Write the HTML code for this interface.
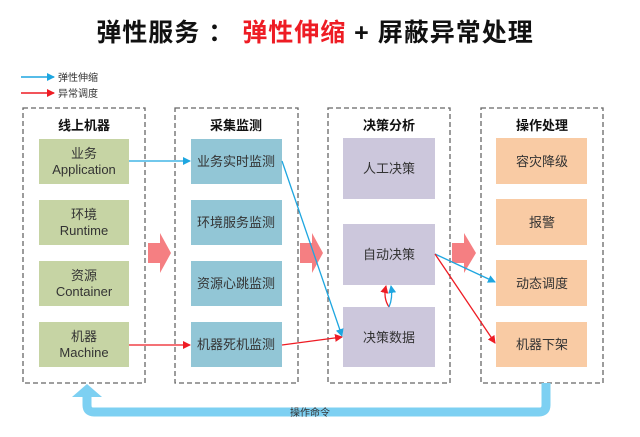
<!DOCTYPE html>
<html><head><meta charset="utf-8"><style>
body{margin:0;background:#fff;}
svg{display:block;font-family:"Liberation Sans","Noto Sans CJK SC",sans-serif;}
</style></head><body>
<svg width="640" height="437" viewBox="0 0 640 437">
<defs>
<marker id="ab" markerWidth="8" markerHeight="8" refX="7" refY="4" orient="auto" markerUnits="userSpaceOnUse"><path d="M0,0 L8,4 L0,8 Z" fill="#1ea6e0"/></marker>
<marker id="ar" markerWidth="8" markerHeight="8" refX="7" refY="4" orient="auto" markerUnits="userSpaceOnUse"><path d="M0,0 L8,4 L0,8 Z" fill="#ee1c24"/></marker>
</defs>
<text x="315" y="41" text-anchor="middle" font-size="25" font-weight="bold" fill="#111" letter-spacing="1">弹性服务 ： <tspan fill="#ee1c24">弹性伸缩</tspan> + 屏蔽异常处理</text>
<!-- legend -->
<line x1="21" y1="77" x2="54" y2="77" stroke="#1ea6e0" stroke-width="1.5" marker-end="url(#ab)"/>
<text x="58" y="81" font-size="10" fill="#333">弹性伸缩</text>
<line x1="21" y1="93" x2="54" y2="93" stroke="#ee1c24" stroke-width="1.5" marker-end="url(#ar)"/>
<text x="58" y="97" font-size="10" fill="#333">异常调度</text>
<!-- containers -->
<g fill="none" stroke="#666" stroke-width="1.3" stroke-dasharray="5,3">
<rect x="23" y="108" width="122" height="275"/>
<rect x="175" y="108" width="123" height="275"/>
<rect x="328" y="108" width="122" height="275"/>
<rect x="481" y="108" width="122" height="275"/>
</g>
<g font-size="13" font-weight="bold" fill="#111" text-anchor="middle">
<text x="84" y="130">线上机器</text>
<text x="236" y="130">采集监测</text>
<text x="389" y="130">决策分析</text>
<text x="542" y="130">操作处理</text>
</g>
<!-- col1 -->
<g fill="#c6d4a4">
<rect x="39" y="139" width="90" height="45"/><rect x="39" y="200" width="90" height="45"/>
<rect x="39" y="261" width="90" height="45"/><rect x="39" y="322" width="90" height="45"/>
</g>
<g font-size="13" fill="#333" text-anchor="middle">
<text x="84" y="158">业务</text><text x="84" y="174">Application</text>
<text x="84" y="219">环境</text><text x="84" y="235">Runtime</text>
<text x="84" y="280">资源</text><text x="84" y="296">Container</text>
<text x="84" y="341">机器</text><text x="84" y="357">Machine</text>
</g>
<!-- col2 -->
<g fill="#92c6d6">
<rect x="191" y="139" width="91" height="45"/><rect x="191" y="200" width="91" height="45"/>
<rect x="191" y="261" width="91" height="45"/><rect x="191" y="322" width="91" height="45"/>
</g>
<g font-size="13" fill="#333" text-anchor="middle">
<text x="236" y="166">业务实时监测</text><text x="236" y="227">环境服务监测</text>
<text x="236" y="288">资源心跳监测</text><text x="236" y="349">机器死机监测</text>
</g>
<!-- col3 -->
<g fill="#ccc7dc">
<rect x="343" y="138" width="92" height="61"/><rect x="343" y="224" width="92" height="61"/>
<rect x="343" y="307" width="92" height="60"/>
</g>
<g font-size="13" fill="#333" text-anchor="middle">
<text x="389" y="173">人工决策</text><text x="389" y="259">自动决策</text><text x="389" y="342">决策数据</text>
</g>
<!-- col4 -->
<g fill="#f9cba4">
<rect x="496" y="138" width="91" height="46"/><rect x="496" y="199" width="91" height="46"/>
<rect x="496" y="260" width="91" height="46"/><rect x="496" y="322" width="91" height="45"/>
</g>
<g font-size="13" fill="#333" text-anchor="middle">
<text x="542" y="166">容灾降级</text><text x="542" y="227">报警</text>
<text x="542" y="288">动态调度</text><text x="542" y="349">机器下架</text>
</g>
<!-- big pink arrows -->
<g fill="#f57f82">
<path d="M148,243 L160,243 L160,233 L171,253 L160,273 L160,263 L148,263 Z"/>
<path d="M300,243 L312,243 L312,233 L323,253 L312,273 L312,263 L300,263 Z"/>
<path d="M452,243 L464,243 L464,233 L476,253 L464,273 L464,263 L452,263 Z"/>
</g>
<!-- connectors -->
<line x1="129" y1="161" x2="190" y2="161" stroke="#1ea6e0" stroke-width="1.3" marker-end="url(#ab)"/>
<line x1="129" y1="345" x2="190" y2="345" stroke="#ee1c24" stroke-width="1.3" marker-end="url(#ar)"/>
<line x1="282" y1="161" x2="342" y2="336" stroke="#1ea6e0" stroke-width="1.3" marker-end="url(#ab)"/>
<line x1="282" y1="345" x2="342" y2="337" stroke="#ee1c24" stroke-width="1.3" marker-end="url(#ar)"/>
<line x1="435" y1="254" x2="495" y2="282" stroke="#1ea6e0" stroke-width="1.3" marker-end="url(#ab)"/>
<line x1="435" y1="254" x2="495" y2="343" stroke="#ee1c24" stroke-width="1.3" marker-end="url(#ar)"/>
<path d="M389,307 Q383,298 386,286" fill="none" stroke="#ee1c24" stroke-width="1.3" marker-end="url(#ar)"/>
<path d="M389,307 Q393,298 391,286" fill="none" stroke="#1ea6e0" stroke-width="1.3" marker-end="url(#ab)"/>
<!-- bottom loop -->
<path d="M546,383 L546,405 Q546,412 539,412 L94,412 Q87,412 87,405 L87,396" fill="none" stroke="#7dd0f2" stroke-width="9"/>
<path d="M72,397 L87,384 L102,397 Z" fill="#7dd0f2"/>
<text x="310" y="416" font-size="10" fill="#333" text-anchor="middle">操作命令</text>
</svg>
</body></html>
